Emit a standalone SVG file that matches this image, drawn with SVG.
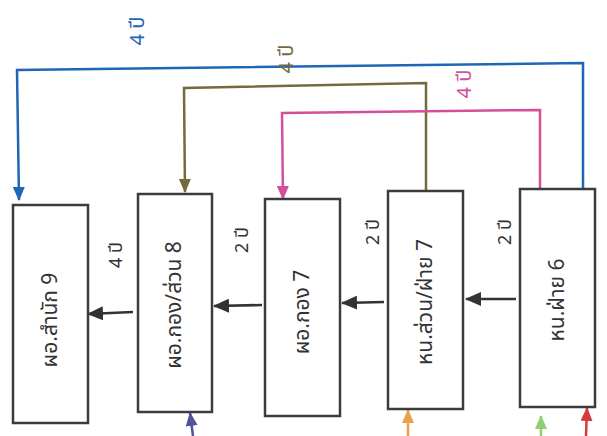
<svg xmlns="http://www.w3.org/2000/svg" width="607" height="436" viewBox="0 0 607 436">
<style>
.box{fill:#fff;stroke:#3c3c3c;stroke-width:2.5}
.lbl{font-family:"Noto Sans Thai","Noto Sans","DejaVu Sans",sans-serif;font-size:21px;fill:#333;text-anchor:middle;dominant-baseline:central}
.yr{font-family:"Noto Sans Thai","Noto Sans","DejaVu Sans",sans-serif;font-size:18px;fill:#333;text-anchor:middle;dominant-baseline:central}
.yrt{font-family:"Noto Sans Thai","Noto Sans","DejaVu Sans",sans-serif;font-size:20px;text-anchor:middle;dominant-baseline:central}
.c{fill:none;stroke-width:2.5}
</style>
<defs>
<marker id="aK" markerUnits="userSpaceOnUse" viewBox="0 0 16 14" markerWidth="16" markerHeight="14" refX="15" refY="7" orient="auto"><path d="M0,0 L16,7 L0,14 z" fill="#333"/></marker>
<marker id="aB" markerUnits="userSpaceOnUse" viewBox="0 0 14 12" markerWidth="14" markerHeight="12" refX="13" refY="6" orient="auto"><path d="M0,0 L14,6 L0,12 z" fill="#1f66b8"/></marker>
<marker id="aO" markerUnits="userSpaceOnUse" viewBox="0 0 14 12" markerWidth="14" markerHeight="12" refX="13" refY="6" orient="auto"><path d="M0,0 L14,6 L0,12 z" fill="#746a3e"/></marker>
<marker id="aP" markerUnits="userSpaceOnUse" viewBox="0 0 14 12" markerWidth="14" markerHeight="12" refX="13" refY="6" orient="auto"><path d="M0,0 L14,6 L0,12 z" fill="#d2509a"/></marker>
<marker id="aV" markerUnits="userSpaceOnUse" viewBox="0 0 14 12" markerWidth="14" markerHeight="12" refX="13" refY="6" orient="auto"><path d="M0,0 L14,6 L0,12 z" fill="#52529c"/></marker>
<marker id="aY" markerUnits="userSpaceOnUse" viewBox="0 0 14 12" markerWidth="14" markerHeight="12" refX="13" refY="6" orient="auto"><path d="M0,0 L14,6 L0,12 z" fill="#e8a24c"/></marker>
<marker id="aG" markerUnits="userSpaceOnUse" viewBox="0 0 14 12" markerWidth="14" markerHeight="12" refX="13" refY="6" orient="auto"><path d="M0,0 L14,6 L0,12 z" fill="#8fcf72"/></marker>
<marker id="aR" markerUnits="userSpaceOnUse" viewBox="0 0 14 12" markerWidth="14" markerHeight="12" refX="13" refY="6" orient="auto"><path d="M0,0 L14,6 L0,12 z" fill="#d83a3a"/></marker>
</defs>
<rect width="607" height="436" fill="#fff"/>
<g id="connectors">
<path class="c" stroke="#1f66b8" d="M583,189 L583,63 L17,70 L19,200" marker-end="url(#aB)"/>
<path class="c" stroke="#746a3e" d="M426,191 L426,83 L184,88 L185,192" marker-end="url(#aO)"/>
<path class="c" stroke="#d2509a" d="M540,189 L540,110 L282,113 L283,199" marker-end="url(#aP)"/>
<path class="c" stroke="#333" d="M133,312 L88,314" marker-end="url(#aK)"/>
<path class="c" stroke="#333" d="M262,305 L214,306" marker-end="url(#aK)"/>
<path class="c" stroke="#333" d="M384,302 L342,303" marker-end="url(#aK)"/>
<path class="c" stroke="#333" d="M516,299 L466,299" marker-end="url(#aK)"/>
<path class="c" stroke="#52529c" d="M193,436 L190,413" marker-end="url(#aV)"/>
<path class="c" stroke="#e8a24c" d="M408,436 L408,410" marker-end="url(#aY)"/>
<path class="c" stroke="#8fcf72" d="M541,436 L541,416" marker-end="url(#aG)"/>
<path class="c" stroke="#d83a3a" d="M586,436 L587,408" marker-end="url(#aR)"/>
<text class="yrt" fill="#1f66b8" transform="translate(138,31) rotate(-90)">4 ปี</text>
<text class="yrt" fill="#746a3e" transform="translate(287,59) rotate(-90)">4 ปี</text>
<text class="yrt" fill="#d2509a" transform="translate(465,84) rotate(-90)">4 ปี</text>
<text class="yr" transform="translate(116,255) rotate(-90)">4 ปี</text>
<text class="yr" transform="translate(242,240) rotate(-90)">2 ปี</text>
<text class="yr" transform="translate(373,232) rotate(-90)">2 ปี</text>
<text class="yr" transform="translate(505,232) rotate(-90)">2 ปี</text>
</g>
<g id="n1"><rect class="box" x="13" y="205" width="75" height="218"/><text class="lbl" transform="translate(50,320) rotate(-90)">ผอ.สำนัก 9</text></g>
<g id="n2"><rect class="box" x="138" y="194" width="74" height="218"/><text class="lbl" transform="translate(174,305) rotate(-90)">ผอ.กอง/ส่วน 8</text></g>
<g id="n3"><rect class="box" x="265" y="199" width="75" height="217"/><text class="lbl" transform="translate(302,312) rotate(-90)">ผอ.กอง 7</text></g>
<g id="n4"><rect class="box" x="388" y="191" width="75" height="218"/><text class="lbl" transform="translate(425,302) rotate(-90)">หน.ส่วน/ฝ่าย 7</text></g>
<g id="n5"><rect class="box" x="520" y="189" width="75" height="218"/><text class="lbl" transform="translate(557,300) rotate(-90)">หน.ฝ่าย 6</text></g>
</svg>
